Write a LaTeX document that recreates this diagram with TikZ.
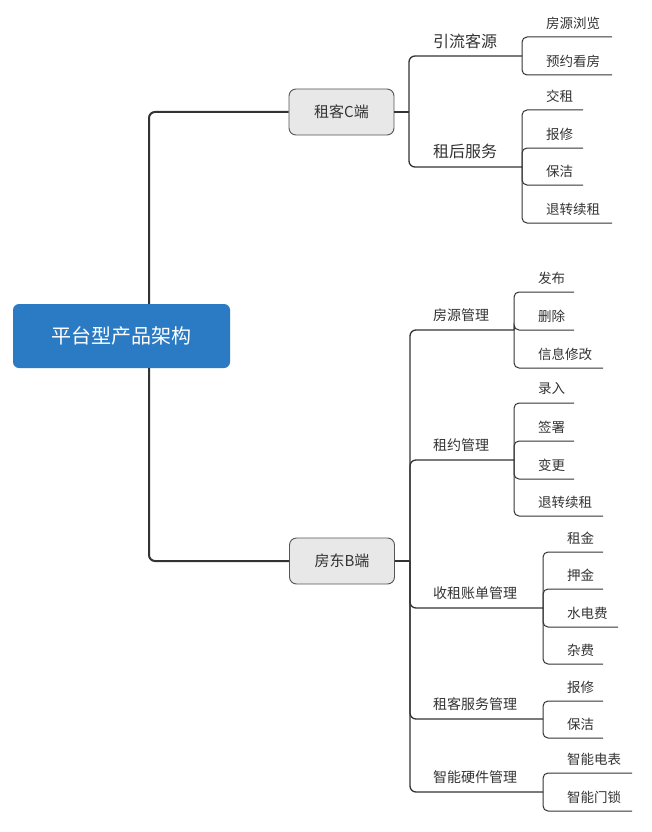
\documentclass[tikz,border=0pt]{standalone}
\usepackage{fontspec}
\setmainfont{Noto Sans CJK SC}
\definecolor{rootblue}{HTML}{2B7BC4}
\definecolor{linec}{HTML}{333333}
\definecolor{boxgray}{HTML}{E8E8E8}
\definecolor{boxedge}{HTML}{555555}
\definecolor{textc}{HTML}{333333}
\tikzset{
 rootbox/.style={fill=rootblue, rounded corners=6pt, minimum width=217pt, minimum height=64pt, text=white, font=\fontsize{20}{24}\selectfont, inner sep=0pt},
 catbox/.style={fill=boxgray, draw=boxedge, line width=0.9pt, rounded corners=7pt, minimum width=105pt, minimum height=46pt, text=textc, font=\fontsize{15}{18}\selectfont, inner sep=0pt},
 mainline/.style={draw=linec, line width=2pt, rounded corners=6pt},
 branchline/.style={draw=linec, line width=1.3pt, rounded corners=6pt},
 leafline/.style={draw=linec, line width=1pt, rounded corners=5pt},
 ctext/.style={font=\fontsize{16}{19}\selectfont, text=textc, anchor=west, inner sep=0pt},
 btext/.style={font=\fontsize{14}{17}\selectfont, text=textc, anchor=west, inner sep=0pt},
 leaftext/.style={font=\fontsize{13.5}{16}\selectfont, text=textc, anchor=west, inner sep=0pt},
}
\newcommand\mmleaf[6]{%
 \coordinate (#1e) at (#5,#4);
 \draw[leafline] (#2) |- (#1e);
 \node[leaftext] (#1) at (#3+24,#4-14) {#6};
}
\begin{document}
\begin{tikzpicture}[x=1pt,y=-1pt]
\useasboundingbox (0,0) rectangle (652,832);
\node[rootbox] (root) at (121.5,336) {平台型产品架构};
\node[catbox] (C) at (341.5,112) {租客C端};
\node[catbox] (B) at (342,561) {房东B端};
\draw[mainline] ([xshift=27.5pt]root.north) |- (C.west);
\draw[mainline] ([xshift=27.5pt]root.south) |- (B.west);
% C side
\coordinate (cj) at (409,112);
\draw[branchline] (C.east) -- (cj);
\coordinate (j1) at (522,56);
\coordinate (j2) at (522,167);
\draw[branchline] (cj) |- (j1);
\draw[branchline] (cj) |- (j2);
\node[ctext] (t1) at (433,41) {引流客源};
\node[ctext] (t2) at (433,151) {租后服务};
\mmleaf{a1}{j1}{522}{37}{612}{房源浏览}
\mmleaf{a2}{j1}{522}{75}{612}{预约看房}
\mmleaf{a3}{j2}{522}{110}{583}{交租}
\mmleaf{a4}{j2}{522}{148}{583}{报修}
\mmleaf{a5}{j2}{522}{185}{583}{保洁}
\mmleaf{a6}{j2}{522}{223}{612}{退转续租}
% B side
\coordinate (bj) at (410,561);
\draw[branchline] (B.east) -- (bj);
\coordinate (k1) at (514,330);
\coordinate (k2) at (514,460);
\coordinate (k3) at (543,608);
\coordinate (k4) at (543,719);
\coordinate (k5) at (543,792);
\foreach \k in {k1,k2,k3,k4,k5} {\draw[branchline] (bj) |- (\k);}
\node[btext] (s1) at (433,315) {房源管理};
\node[btext] (s2) at (433,445) {租约管理};
\node[btext] (s3) at (433,593) {收租账单管理};
\node[btext] (s4) at (433,704) {租客服务管理};
\node[btext] (s5) at (433,777) {智能硬件管理};
\mmleaf{b1}{k1}{514}{292}{574}{发布}
\mmleaf{b2}{k1}{514}{330}{574}{删除}
\mmleaf{b3}{k1}{514}{368}{603}{信息修改}
\mmleaf{b4}{k2}{514}{403}{574}{录入}
\mmleaf{b5}{k2}{514}{441}{574}{签署}
\mmleaf{b6}{k2}{514}{479}{574}{变更}
\mmleaf{b7}{k2}{514}{516}{603}{退转续租}
\mmleaf{b8}{k3}{543}{552}{603}{租金}
\mmleaf{b9}{k3}{543}{589}{603}{押金}
\mmleaf{b10}{k3}{543}{627}{618}{水电费}
\mmleaf{b11}{k3}{543}{664}{603}{杂费}
\mmleaf{b12}{k4}{543}{701}{603}{报修}
\mmleaf{b13}{k4}{543}{738}{603}{保洁}
\mmleaf{b14}{k5}{543}{773}{632}{智能电表}
\mmleaf{b15}{k5}{543}{811}{632}{智能门锁}
\end{tikzpicture}
\end{document}
